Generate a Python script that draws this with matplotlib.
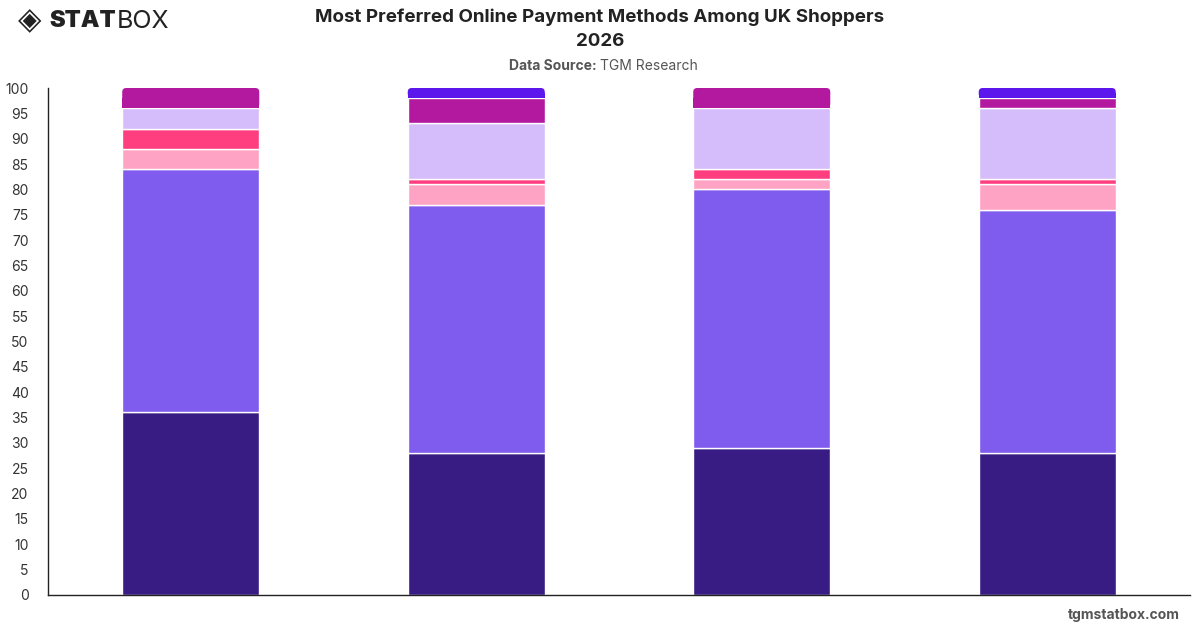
import matplotlib
matplotlib.use("Agg")
import matplotlib.pyplot as plt
from matplotlib.patches import FancyBboxPatch, Rectangle
import numpy as np

plt.rcParams['font.family'] = ['Inter', 'DejaVu Sans']

categories = ["A", "B", "C", "D"]
series_names = ["Debit Card", "Credit Card", "Digital Wallet", "Bank Transfer",
                "Buy Now Pay Later", "Cash on Delivery", "Other"]
s1 = [36, 28, 29, 28]
s2 = [48, 49, 51, 48]
s3 = [4, 4, 2, 5]
s4 = [4, 1, 2, 1]
s5 = [4, 11, 12, 14]
s6 = [4, 5, 4, 2]
s7 = [0, 2, 0, 2]
series = [s1, s2, s3, s4, s5, s6, s7]
colors = ["#391b84", "#7f5bee", "#ffa3c4", "#ff3e80", "#d5bcfa", "#b2199e", "#5c17ec"]
yticks = list(range(0, 101, 5))

fig = plt.figure(figsize=(12, 6.28), dpi=100)
ax = fig.add_axes([48/1200, 1-595/628, 1142/1200, 507/628])

x = np.arange(len(categories))
width = 0.48
bottom = np.zeros(len(categories))
top_patch = [None]*len(categories)
top_color = [None]*len(categories)
for vals, c in zip(series, colors):
    v = np.array(vals, dtype=float)
    bars = ax.bar(x, v, width, bottom=bottom, color=c, edgecolor="white", linewidth=1, zorder=2)
    for i, b in enumerate(bars):
        if v[i] > 0:
            top_patch[i] = b
            top_color[i] = c
    bottom += v

# round top corners of the top segment
xpp = len(categories) / 1142.0  # x data units per px
ypp = 100.0 / 507               # y data units per px
r = 4 * xpp
for b, c in zip(top_patch, top_color):
    bx, by, bw, bh = b.get_x(), b.get_y(), b.get_width(), b.get_height()
    b.set_visible(False)
    fb = FancyBboxPatch((bx, by + 0.5 * ypp), bw, bh - 0.5 * ypp,
                        boxstyle=f"round,pad=0,rounding_size={r}",
                        mutation_aspect=ypp / xpp,
                        facecolor=c, edgecolor="none", zorder=2)
    ax.add_patch(fb)
    ax.add_patch(Rectangle((bx, by + 0.5 * ypp), bw, (bh - 0.5 * ypp) / 2,
                           facecolor=c, edgecolor="none", zorder=2))

ax.set_xlim(-0.5, len(categories) - 0.5)
ax.set_ylim(0, 100)
ax.set_yticks(yticks)
ax.set_yticklabels([str(t) for t in yticks], fontsize=10, color="#333333")
ax.set_xticks([])
ax.tick_params(axis="y", length=0, pad=14)
for s in ["top", "right"]:
    ax.spines[s].set_visible(False)
ax.spines["left"].set_color("#222222")
ax.spines["bottom"].set_color("#222222")
ax.spines["left"].set_linewidth(1)
ax.spines["bottom"].set_linewidth(1)

fig.text(0.5, 1-17/628, "Most Preferred Online Payment Methods Among UK Shoppers",
         ha="center", va="center", fontsize=13.5, fontweight="bold", color="#222222")
fig.text(0.5, 1-41/628, "2026", ha="center", va="center", fontsize=13.5,
         fontweight="bold", color="#222222")
fig.text(0.5, 1-66/628, "Data Source: ", ha="right", va="center", fontsize=10,
         fontweight="bold", color="#555555")
fig.text(0.5, 1-66/628, "TGM Research", ha="left", va="center", fontsize=10, color="#555555")

fig.text(1-20/1200, 1-615/628, "tgmstatbox.com", ha="right", va="center",
         fontsize=10, fontweight="bold", color="#555555")

# logo
ly = 1-21/628
fig.text(30/1200, ly, "◈", ha="center", va="center", fontsize=22, color="#222222",
         family=["DejaVu Sans"])
stat = fig.text(49/1200, ly, "STAT", ha="left", va="center", fontsize=17, fontweight="black",
                color="#222222")
fig.canvas.draw()
bb = stat.get_window_extent(renderer=fig.canvas.get_renderer())
fig.text(bb.x1 / 1200 + 1/1200, ly, "BOX", ha="left", va="center", fontsize=18,
         fontweight="normal", color="#222222")

fig.savefig("out.png", dpi=100, facecolor="white")
